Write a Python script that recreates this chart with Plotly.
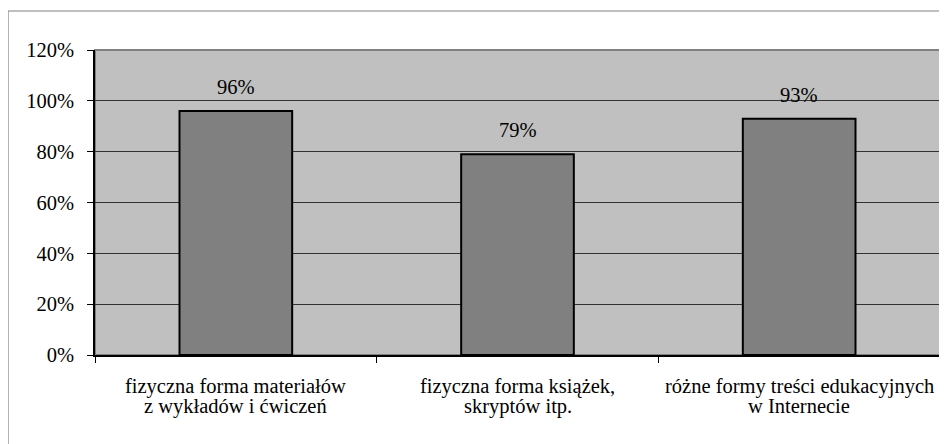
import plotly.graph_objects as go

cat_line1 = ["fizyczna forma materiałów", "fizyczna forma książek,", "różne formy treści edukacyjnych"]
cat_line2 = ["z wykładów i ćwiczeń", "skryptów itp.", "w Internecie"]
categories = [a + " " + b for a, b in zip(cat_line1, cat_line2)]
values = [96, 79, 93]
value_labels = ["96%", "79%", "93%"]
tick_vals = [0, 20, 40, 60, 80, 100, 120]
tick_text = ["0%", "20%", "40%", "60%", "80%", "100%", "120%"]

font = "Liberation Serif"
FS = 20.5

fig = go.Figure()
fig.add_trace(go.Bar(
    x=categories, y=values, width=0.4,
    marker=dict(color="#808080", line=dict(color="#000000", width=2)),
    hoverinfo="skip",
))

for c, v, t in zip(categories, values, value_labels):
    fig.add_annotation(x=c, y=v, text=t, showarrow=False, yshift=24,
                       font=dict(family=font, size=FS, color="#000"))

for c, a, b in zip(categories, cat_line1, cat_line2):
    fig.add_annotation(x=c, y=0, text=a, showarrow=False, yshift=-31,
                       font=dict(family=font, size=FS, color="#000"))
    fig.add_annotation(x=c, y=0, text=b, showarrow=False, yshift=-51,
                       font=dict(family=font, size=FS, color="#000"))

# page offset of 8px (body margin)
OFF = 8
W, H = 947 - OFF, 444 - OFF
l, r, t, b = 95 - OFF, W - (940 - OFF), 50 - OFF, H - (355 - OFF)
pw, ph = W - l - r, H - t - b

def px_x(x):
    return (x - OFF - l) / pw

def px_y(y):
    return (H - b - (y - OFF)) / ph

fig.add_shape(type="rect", xref="paper", yref="paper",
              x0=px_x(8), x1=px_x(946), y0=px_y(470), y1=px_y(11),
              line=dict(color="#808080", width=1.2), fillcolor="rgba(0,0,0,0)", layer="below")
fig.add_shape(type="rect", xref="paper", yref="paper",
              x0=0, x1=1, y0=0, y1=1,
              line=dict(color="#808080", width=2), fillcolor="rgba(0,0,0,0)", layer="below")

fig.update_layout(
    width=W, height=H,
    margin=dict(l=l, r=r, t=t, b=b),
    paper_bgcolor="white", plot_bgcolor="#C0C0C0",
    showlegend=False,
    font=dict(family=font, size=FS, color="#000"),
    bargap=0.6,
)
fig.update_xaxes(type="category", tickson="boundaries", ticks="outside", ticklen=6,
                 tickcolor="#000", showline=True, linecolor="#000", linewidth=1.5,
                 showgrid=False, showticklabels=False)
fig.update_yaxes(range=[0, 120], tickvals=tick_vals, ticktext=tick_text,
                 ticks="outside", ticklen=6, tickcolor="#000",
                 showline=True, linecolor="#000", linewidth=1.5,
                 showgrid=True, gridcolor="#333333", gridwidth=1,
                 zeroline=False, tickfont=dict(family=font, size=FS, color="#000"),
                 ticklabelstandoff=9)

fig.write_html("out.html")
